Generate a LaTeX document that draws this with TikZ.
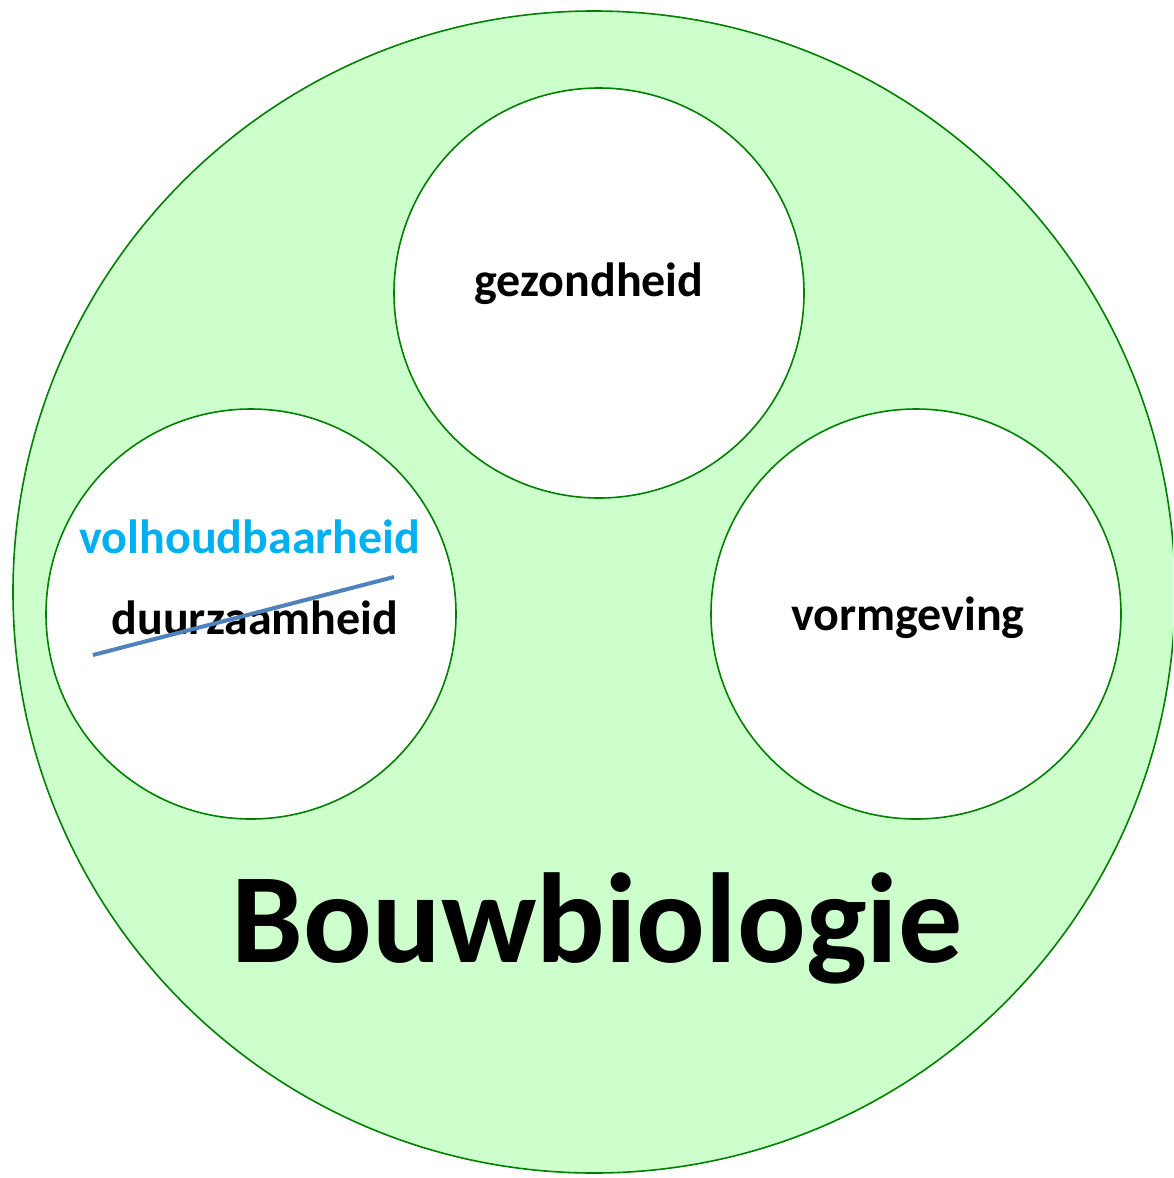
\documentclass[tikz,border=0pt]{standalone}
\usepackage{fontspec}
\setmainfont{Carlito}
\definecolor{bigfill}{HTML}{CCFFCC}
\definecolor{ringline}{HTML}{008000}
\definecolor{newword}{HTML}{00B0F0}
\definecolor{strikeblue}{HTML}{4F81BD}
\tikzset{
  ring/.style={circle, draw=ringline, line width=1.6pt, fill=white, minimum size=410pt, inner sep=0pt},
  bigring/.style={circle, draw=ringline, line width=1.6pt, fill=bigfill, minimum size=1162pt, inner sep=0pt},
  word/.style={font=\bfseries\fontsize{48}{56}\selectfont, inner sep=0pt},
}
\begin{document}
\begin{tikzpicture}[x=1pt,y=-1pt]
\useasboundingbox (0,0) rectangle (1173,1178);
\clip (0,0) rectangle (1173,1178);
\fill[white] (0,0) rectangle (1173,1178);
\node[bigring] (big) at (594,592) {};
\node[ring] (top) at (599,293) {};
\node[ring] (left) at (251,614) {};
\node[ring] (right) at (916,614) {};
\node[word] (gez) at (589,284) {gezondheid};
\node[word, text=newword] (vol) at (250,537) {volhoudbaarheid};
\node[word] (duur) at (255,618) {duurzaamheid};
\node[word] (vorm) at (908,618) {vormgeving};
\coordinate (s1) at (93,655);
\coordinate (s2) at (394,577);
\draw[strikeblue, line width=4pt] (s1) -- (s2);
\node[font=\bfseries\fontsize{128}{150}\selectfont, inner sep=0pt, anchor=base] (title) at (597,962) {Bouwbiologie};
\end{tikzpicture}
\end{document}
